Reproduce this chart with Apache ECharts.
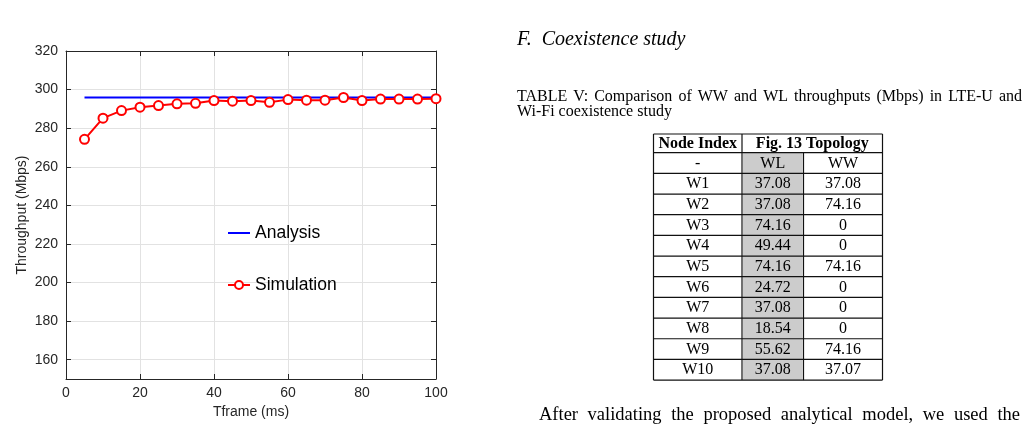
<!DOCTYPE html>
<html>
<head>
<meta charset="utf-8">
<title>Throughput vs Tframe</title>
<script src="https://cdn.jsdelivr.net/npm/echarts@6/dist/echarts.min.js"></script>
<style>html,body{margin:0;padding:0;background:#fff}</style>
</head>
<body>
<div id="main" style="width:1026px;height:437px"></div>
<script>
// chart data
var tframe = [5, 10, 15, 20, 25, 30, 35, 40, 45, 50, 55, 60, 65, 70, 75, 80, 85, 90, 95, 100];
var analysis = [295.9, 295.9, 295.9, 295.9, 295.9, 295.9, 295.9, 295.9, 295.9, 295.9,
                295.9, 295.9, 295.9, 295.9, 295.9, 295.9, 295.9, 295.9, 295.9, 295.9];
var simulation = [274.2, 285.2, 289.1, 290.9, 291.7, 292.6, 292.9, 294.3, 294.0, 294.3,
                  293.4, 294.8, 294.5, 294.5, 295.9, 294.3, 295.1, 295.1, 295.1, 295.3];

// table V
var nodeIndex = ['W1', 'W2', 'W3', 'W4', 'W5', 'W6', 'W7', 'W8', 'W9', 'W10'];
var wlThroughput = [37.08, 37.08, 74.16, 49.44, 74.16, 24.72, 37.08, 18.54, 55.62, 37.08];
var wwThroughput = [37.08, 74.16, 0, 0, 74.16, 0, 0, 0, 74.16, 37.07];

var sectionTitle = 'F.  Coexistence study';
var captionLines = ['TABLE V: Comparison of WW and WL throughputs (Mbps) in LTE-U and',
                    'Wi-Fi coexistence study'];
var bodyLine = 'After validating the proposed analytical model, we used the';

var axisColor = '#262626';
var sans = '"Liberation Sans", Arial, sans-serif';
var serif = '"Liberation Serif", "Times New Roman", serif';

var ctx = document.createElement('canvas').getContext('2d');
function textLine(str, x, y, width, font, justify) {
    var words = str.split(' ');
    ctx.font = font;
    var total = 0;
    words.forEach(function (w) { total += ctx.measureText(w).width; });
    var gap = justify ? (width - total) / (words.length - 1) : ctx.measureText(' ').width;
    var out = [];
    var cx = x;
    words.forEach(function (w) {
        if (w === '') { cx += gap; return; }
        out.push({type: 'text', x: cx, y: y, silent: true, z: 20,
                  style: {text: w, font: font, fill: '#000', verticalAlign: 'middle'}});
        cx += ctx.measureText(w).width + gap;
    });
    return out;
}

// table layout
var tx = [653.5, 742, 803.5, 882.5];
var headTop = 134, headBottom = 152.7, rowH = 20.67;
var cellFont = '16px ' + serif;
var boldFont = 'bold 16px ' + serif;
var graphics = [];

function cellText(str, cx, cy, font) {
    graphics.push({type: 'text', x: cx, y: cy, silent: true, z: 20,
                   style: {text: str, font: font, fill: '#000', align: 'center', verticalAlign: 'middle'}});
}
function hline(x1, x2, y) {
    graphics.push({type: 'line', silent: true, z: 10, shape: {x1: x1, y1: y, x2: x2, y2: y},
                   style: {stroke: '#111', lineWidth: 1.2}});
}
function vline(x, y1, y2) {
    graphics.push({type: 'line', silent: true, z: 10, shape: {x1: x, y1: y1, x2: x, y2: y2},
                   style: {stroke: '#111', lineWidth: 1.2}});
}

var rows = [['-', 'WL', 'WW']];
nodeIndex.forEach(function (n, i) {
    rows.push([n, String(wlThroughput[i]), String(wwThroughput[i])]);
});
var tableBottom = headBottom + rows.length * rowH;

// gray WL column
graphics.push({type: 'rect', silent: true, z: 1,
               shape: {x: tx[1] + 1, y: headBottom, width: tx[2] - tx[1] - 2, height: tableBottom - headBottom},
               style: {fill: '#cccccc'}});

cellText('Node Index', (tx[0] + tx[1]) / 2, (headTop + headBottom) / 2 + 0.5, boldFont);
cellText('Fig. 13 Topology', (tx[1] + tx[3]) / 2, (headTop + headBottom) / 2 + 0.5, boldFont);
rows.forEach(function (r, i) {
    var cy = headBottom + (i + 0.5) * rowH + 0.5;
    cellText(r[0], (tx[0] + tx[1]) / 2, cy, cellFont);
    cellText(r[1], (tx[1] + tx[2]) / 2, cy, cellFont);
    cellText(r[2], (tx[2] + tx[3]) / 2, cy, cellFont);
});
hline(tx[0], tx[3], headTop);
hline(tx[0], tx[3], headBottom);
for (var i = 1; i <= rows.length; i++) {
    hline(tx[0], tx[3], headBottom + i * rowH);
}
vline(tx[0], headTop, tableBottom);
vline(tx[1], headTop, tableBottom);
vline(tx[2], headBottom, tableBottom);
vline(tx[3], headTop, tableBottom);

// text of the page
graphics = graphics.concat(
    textLine(sectionTitle, 517, 40, 0, 'italic 20px ' + serif, false),
    textLine(captionLines[0], 517, 97, 505, '16px ' + serif, true),
    textLine(captionLines[1], 517, 112, 0, '16px ' + serif, false),
    textLine(bodyLine, 539, 415, 481, '18.5px ' + serif, true)
);

function pairs(xs, ys) {
    return xs.map(function (x, i) { return [x, ys[i]]; });
}

var boxAxis = {
    axisLine: {show: true, onZero: false, lineStyle: {color: axisColor, width: 1}},
    axisTick: {show: true, inside: true, length: 5, lineStyle: {color: axisColor}},
    axisLabel: {show: false},
    splitLine: {show: false}
};

var option = {
    backgroundColor: '#fff',
    animation: false,
    grid: {left: 66, right: 590, top: 51, bottom: 58},
    legend: {
        orient: 'vertical',
        left: 227,
        top: 224,
        padding: 0,
        itemWidth: 22,
        itemHeight: 10,
        itemGap: 34,
        data: [
            {name: 'Analysis', icon: 'path://M0,0 L22,0 L22,2 L0,2 Z'},
            {name: 'Simulation'}
        ],
        textStyle: {fontFamily: sans, fontSize: 17.5, color: '#000'}
    },
    xAxis: [{
        type: 'value',
        min: 0,
        max: 100,
        interval: 20,
        name: 'Tframe (ms)',
        nameLocation: 'middle',
        nameGap: 24,
        nameTextStyle: {fontFamily: sans, fontSize: 14, color: axisColor},
        axisLine: {show: true, onZero: false, lineStyle: {color: axisColor, width: 1}},
        axisTick: {show: true, inside: true, length: 5, lineStyle: {color: axisColor}},
        axisLabel: {fontFamily: sans, fontSize: 14, color: axisColor, margin: 7},
        splitLine: {show: true, lineStyle: {color: '#e2e2e2'}}
    }, Object.assign({type: 'value', position: 'top', min: 0, max: 100, interval: 20}, boxAxis)],
    yAxis: [{
        type: 'value',
        min: 150,
        max: 320,
        splitNumber: 8,
        name: 'Throughput (Mbps)',
        nameLocation: 'middle',
        nameGap: 37,
        nameTextStyle: {fontFamily: sans, fontSize: 14, color: axisColor},
        axisLine: {show: true, onZero: false, lineStyle: {color: axisColor, width: 1}},
        axisTick: {show: true, inside: true, length: 5, lineStyle: {color: axisColor}},
        axisLabel: {fontFamily: sans, fontSize: 14, color: axisColor, margin: 8, showMinLabel: false},
        splitLine: {show: true, lineStyle: {color: '#e2e2e2'}}
    }, Object.assign({type: 'value', position: 'right', min: 150, max: 320, splitNumber: 8}, boxAxis)],
    series: [{
        name: 'Analysis',
        type: 'line',
        data: pairs(tframe, analysis),
        symbol: 'none',
        lineStyle: {color: '#0000ff', width: 2},
        itemStyle: {color: '#0000ff'},
        z: 3
    }, {
        name: 'Simulation',
        type: 'line',
        data: pairs(tframe, simulation),
        symbol: 'emptyCircle',
        symbolSize: 9,
        lineStyle: {color: '#ff0000', width: 2},
        itemStyle: {color: '#ff0000', borderWidth: 1.8},
        z: 4
    }],
    graphic: {elements: graphics}
};

var myChart = echarts.init(document.getElementById('main'));
myChart.setOption(option);
</script>
</body>
</html>
